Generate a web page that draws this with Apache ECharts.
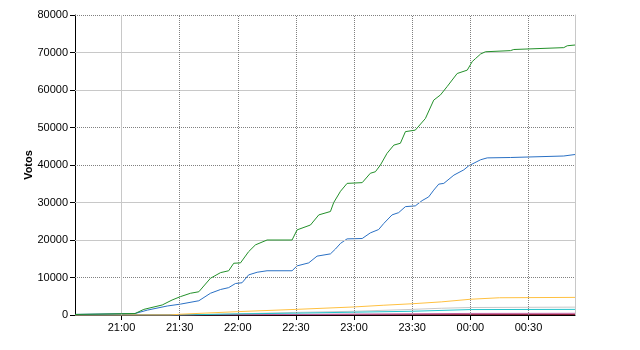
<!DOCTYPE html>
<html>
<head>
<meta charset="utf-8">
<script src="https://cdn.jsdelivr.net/npm/echarts@6/dist/echarts.min.js"></script>
<style>
html,body{margin:0;padding:0;background:#fff;}
#chart{width:640px;height:350px;}
</style>
</head>
<body>
<div id="chart"></div>
<script>
// times are minutes after 20:00
const greenT = [36,67,71.5,81,86.1,90.4,95.6,99.9,105.9,111.1,115.3,117.9,121.4,125.6,129.1,135.1,148,150.6,157.5,161.8,167.8,169.5,173,176.4,184.2,188.4,191,193.6,197,200.5,203.9,206.5,211.6,216.8,221.1,224.6,228,233.2,238.4,241,242.7,245.3,247.8,260.7,262.4,288.2,290,294];
const greenV = [150,400,1500,2670,4000,4900,5800,6200,9800,11300,11800,13800,13900,16900,18700,20000,20000,22700,24000,26700,27600,30000,33000,35100,35300,37800,38200,40000,43100,45300,45800,48900,49300,52400,57300,58700,60900,64400,65300,67600,68400,69600,70200,70500,70800,71300,71800,72000];

const blueT = [36,67,73.3,83.6,90.4,99.9,105.9,111.1,115.3,118.8,122.2,125.6,130,135.1,148,150.6,156.6,160.9,167.8,170.4,173,176.4,184.2,188.4,192.7,195.3,199.6,203,206.5,211.6,215.1,218.5,221.1,223.7,226.3,231.5,236.6,239.2,240.1,245.3,248.7,260.7,261.6,288.2,289.1,294];
const blueV = [150,400,1300,2400,2900,3800,5800,6800,7300,8400,8600,10700,11400,11800,11800,13100,13900,15700,16300,17600,19100,20300,20400,21900,22800,24400,26700,27300,28900,29100,30500,31500,33300,34900,35100,37300,38700,39800,40300,41400,41900,42000,42300,42400,42700,42800];

const orangeT = [36,85,90,120,150,180,195,210,225,240,255,294];
const orangeV = [0,0,200,900,1500,2150,2600,3000,3500,4200,4600,4700];

const grayT = [36,90,120,150,180,210,225,240,294];
const grayV = [0,0,300,700,1000,1500,1800,2000,2100];

const cyanT = [36,90,120,150,180,210,240,294];
const cyanV = [0,0,300,500,750,1000,1450,1500];

const pinkT = [36,120,180,240,294];
const pinkV = [0,50,250,420,450];

const redT = [36,294];
const redV = [0,100];

const xStart = 36, xEnd = 294;
const xTickMinutes = [60,90,120,150,180,210,240,270];
const yTicks = [10000,20000,30000,40000,50000,60000,70000,80000];
const yMax = 80000;

const pairs = (t,v) => t.map((m,i)=>[m, v[i]]);
const hhmm = m => { const h = (20 + Math.floor(m/60)) % 24; const mm = Math.round(m % 60); return String(h).padStart(2,'0') + ':' + String(mm).padStart(2,'0'); };

const solidStyle = {color:'#c8c8c8', type:'solid', width:1};
const dotStyle = {color:'#808080', type:[1,1], width:1};
const solidY = [20000,30000,60000,70000];
const solidX = [60];

const gridLines = [];
yTicks.forEach(v => gridLines.push({yAxis:v, lineStyle: solidY.includes(v)?solidStyle:dotStyle}));
xTickMinutes.forEach(m => gridLines.push({xAxis:m, lineStyle: solidX.includes(m)?solidStyle:dotStyle}));

function line(name, t, v, color, z){
  return {name, type:'line', data:pairs(t,v), showSymbol:false, symbol:'none',
    lineStyle:{color, width:1}, itemStyle:{color}, z:z||3, silent:true};
}

const FONT = '"Liberation Sans", Arial, sans-serif';
const chart = echarts.init(document.getElementById('chart'));
chart.setOption({
  animation:false,
  backgroundColor:'#fff',
  textStyle:{fontFamily:FONT},
  grid:{left:75, right:65, top:15, bottom:35, containLabel:false},
  xAxis:{
    type:'value', min:xStart, max:xEnd,
    axisLine:{lineStyle:{color:'#000', width:1}},
    axisTick:{show:true, length:5, lineStyle:{color:'#000'}, customValues:xTickMinutes},
    axisLabel:{customValues:xTickMinutes, formatter:v=>hhmm(v), color:'#000', fontSize:11, margin:7, fontFamily:FONT},
    splitLine:{show:false}
  },
  yAxis:[{
    type:'value', min:0, max:yMax, interval:10000,
    name:'Votos', nameLocation:'middle', nameGap:41, nameMoveOverlap:false,
    nameTextStyle:{fontWeight:'bold', fontSize:11, color:'#000', fontFamily:FONT},
    axisLine:{show:true, lineStyle:{color:'#000', width:1}},
    axisTick:{show:true, length:5, lineStyle:{color:'#000'}},
    axisLabel:{color:'#000', fontSize:11, margin:7, fontFamily:FONT, formatter:v=>String(v)},
    splitLine:{show:false}
  },{
    type:'value', min:0, max:yMax, interval:10000, position:'right',
    axisLine:{show:true, lineStyle:{color:'#c8c8c8', width:1}},
    axisTick:{show:false}, axisLabel:{show:false}, splitLine:{show:false}
  }],
  series:[
    {type:'line', data:[], silent:true, z:1,
      markLine:{silent:true, symbol:['none','none'], label:{show:false}, animation:false, data:gridLines}},
    line('Gris', grayT, grayV, '#c8c8c8'),
    line('Rojo', redT, redV, '#800020'),
    line('Rosa', pinkT, pinkV, '#c060a0'),
    line('Cian', cyanT, cyanV, '#22c4cc'),
    line('Naranja', orangeT, orangeV, '#ffc040'),
    line('Azul', blueT, blueV, '#2a70c4', 4),
    line('Verde', greenT, greenV, '#23902a', 5)
  ]
});
</script>
</body>
</html>
